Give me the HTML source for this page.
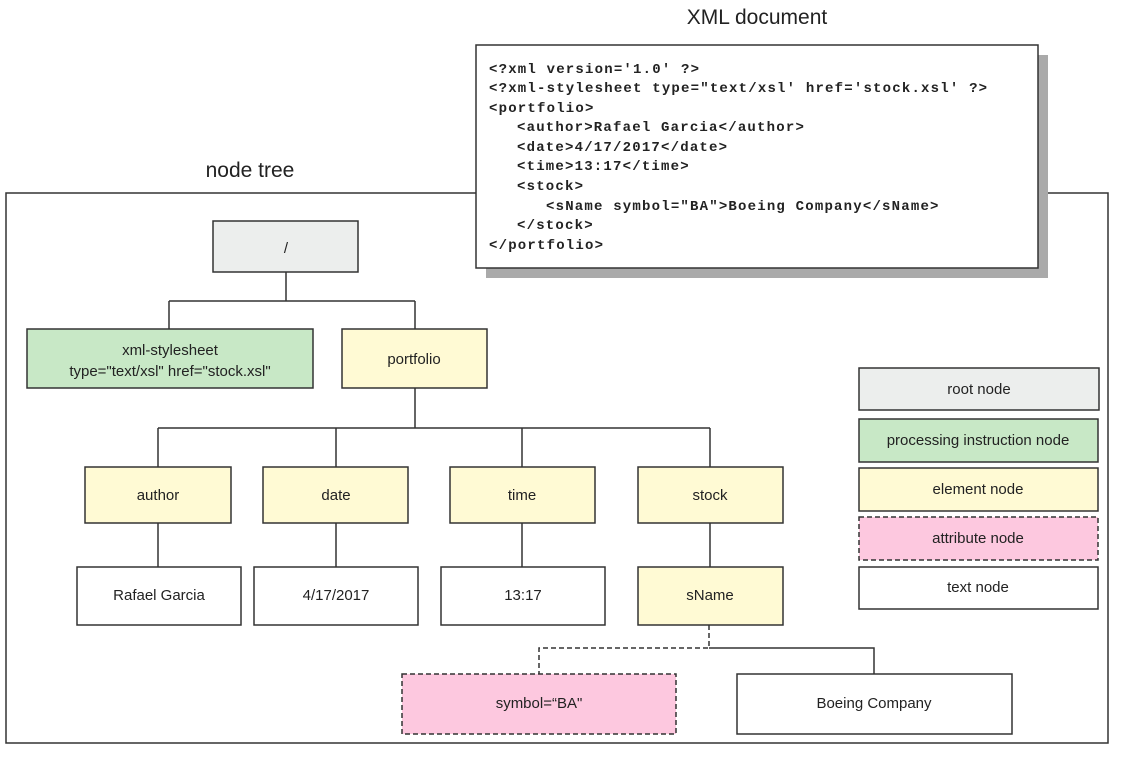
<!DOCTYPE html>
<html><head><meta charset="utf-8"><style>
html,body{margin:0;padding:0;background:#fff;}
svg{display:block;}
text{font-family:"Liberation Sans",sans-serif;font-size:15px;fill:#222;}
.m{font-family:"Liberation Mono",monospace;font-size:14px;letter-spacing:1.2px;font-weight:bold;fill:#222;}
</style></head><body>
<svg width="1123" height="758" viewBox="0 0 1123 758" xmlns="http://www.w3.org/2000/svg">
<g stroke="#333" stroke-width="1.5" fill="none">
<rect x="6" y="193" width="1102" height="550"/>
</g>
<text x="250" y="177" text-anchor="middle" style="font-size:21px">node tree</text>
<text x="757" y="24" text-anchor="middle" style="font-size:21px">XML document</text>
<rect x="486" y="55" width="562" height="223" fill="#aaa"/>
<rect x="476" y="45" width="562" height="223" fill="#fff" stroke="#333" stroke-width="1.5"/>
<text class="m" x="489" y="73">&lt;?xml version='1.0' ?&gt;</text>
<text class="m" x="489" y="92">&lt;?xml-stylesheet type="text/xsl' href='stock.xsl' ?&gt;</text>
<text class="m" x="489" y="112">&lt;portfolio&gt;</text>
<text class="m" x="517" y="131">&lt;author&gt;Rafael Garcia&lt;/author&gt;</text>
<text class="m" x="517" y="151">&lt;date&gt;4/17/2017&lt;/date&gt;</text>
<text class="m" x="517" y="170">&lt;time&gt;13:17&lt;/time&gt;</text>
<text class="m" x="517" y="190">&lt;stock&gt;</text>
<text class="m" x="546" y="210">&lt;sName symbol="BA"&gt;Boeing Company&lt;/sName&gt;</text>
<text class="m" x="517" y="229">&lt;/stock&gt;</text>
<text class="m" x="489" y="249">&lt;/portfolio&gt;</text>
<g stroke="#333" stroke-width="1.5" fill="none">
<path d="M286 272V301M169 301H415M169 301V329M415 301V329"/>
<path d="M415 388V428M158 428H710M158 428V467M336 428V467M522 428V467M710 428V467"/>
<path d="M158 523V567M336 523V567M522 523V567M710 523V567"/>
<path d="M709 648H874V674"/>
<path d="M709 625V648H539V674" stroke-dasharray="5,3"/>
</g>
<g stroke="#333" stroke-width="1.5">
<rect x="213" y="221" width="145" height="51" fill="#eceeed"/>
<rect x="27" y="329" width="286" height="59" fill="#c8e8c6"/>
<rect x="342" y="329" width="145" height="59" fill="#fffad4"/>
<rect x="85" y="467" width="146" height="56" fill="#fffad4"/>
<rect x="263" y="467" width="145" height="56" fill="#fffad4"/>
<rect x="450" y="467" width="145" height="56" fill="#fffad4"/>
<rect x="638" y="467" width="145" height="56" fill="#fffad4"/>
<rect x="77" y="567" width="164" height="58" fill="#fff"/>
<rect x="254" y="567" width="164" height="58" fill="#fff"/>
<rect x="441" y="567" width="164" height="58" fill="#fff"/>
<rect x="638" y="567" width="145" height="58" fill="#fffad4"/>
<rect x="402" y="674" width="274" height="60" fill="#fdc8df" stroke-dasharray="5,3"/>
<rect x="737" y="674" width="275" height="60" fill="#fff"/>
<rect x="859" y="368" width="240" height="42" fill="#eceeed"/>
<rect x="859" y="419" width="239" height="43" fill="#c8e8c6"/>
<rect x="859" y="468" width="239" height="43" fill="#fffad4"/>
<rect x="859" y="517" width="239" height="43" fill="#fdc8df" stroke-dasharray="5,3"/>
<rect x="859" y="567" width="239" height="42" fill="#fff"/>
</g>
<g text-anchor="middle">
<text x="286" y="253">/</text>
<text x="170" y="355">xml-stylesheet</text>
<text x="170" y="376">type="text/xsl" href="stock.xsl"</text>
<text x="414" y="364">portfolio</text>
<text x="158" y="500">author</text>
<text x="336" y="500">date</text>
<text x="522" y="500">time</text>
<text x="710" y="500">stock</text>
<text x="159" y="600">Rafael Garcia</text>
<text x="336" y="600">4/17/2017</text>
<text x="523" y="600">13:17</text>
<text x="710" y="600">sName</text>
<text x="539" y="708">symbol=“BA"</text>
<text x="874" y="708">Boeing Company</text>
<text x="979" y="394">root node</text>
<text x="978" y="445">processing instruction node</text>
<text x="978" y="494">element node</text>
<text x="978" y="543">attribute node</text>
<text x="978" y="592">text node</text>
</g>
</svg>
</body></html>
